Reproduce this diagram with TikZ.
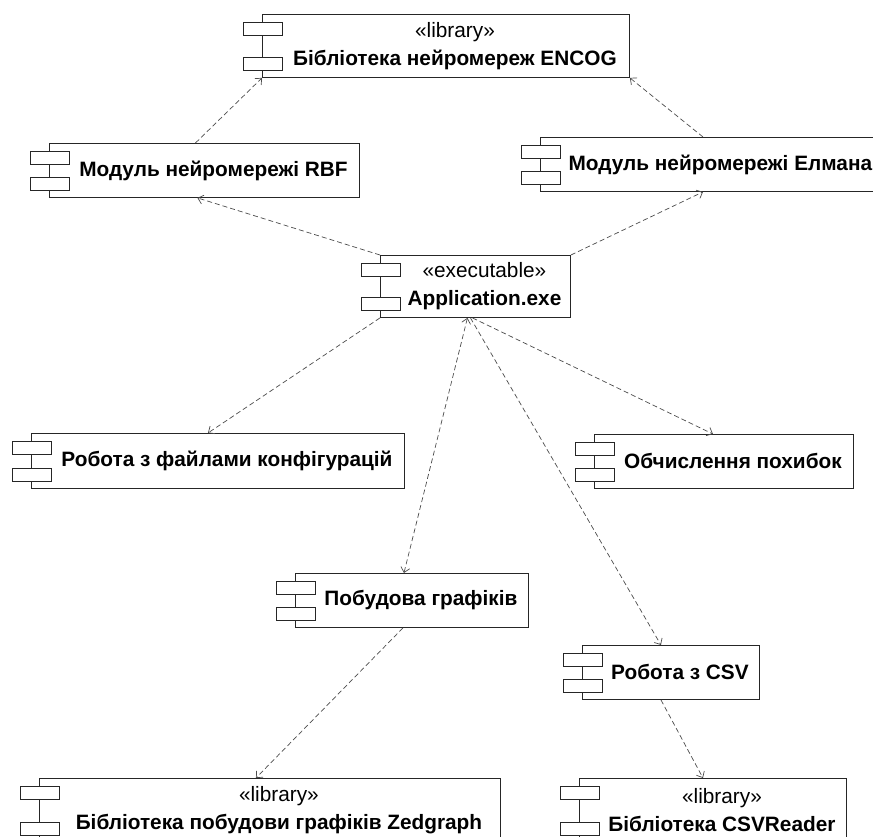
\documentclass[tikz,border=0pt]{standalone}
\usepackage{fontspec}
\setmainfont{Liberation Sans}
\usetikzlibrary{arrows.meta}
\tikzset{
  comp/.style={draw=black!85, line width=0.9pt, fill=white, inner sep=0pt, anchor=north west},
  ctext/.style={font=\fontsize{20.8}{28}\selectfont, align=center, xshift=9pt, text=black},
  tabbox/.style={draw=black!85, line width=0.8pt, fill=white},
  dep/.style={draw=black!70, line width=0.7pt, dash pattern=on 5pt off 3pt},
  tip/.style={-{Straight Barb[length=5pt,width=9pt]}},
  tips/.style={{Straight Barb[length=5pt,width=9pt]}-{Straight Barb[length=5pt,width=9pt]}}
}
\newcommand\comptabs[1]{%
  \draw[tabbox] ([xshift=-19pt,yshift=-8pt]#1.north west) rectangle ++(39pt,-13pt);
  \draw[tabbox] ([xshift=-19pt,yshift=8pt]#1.south west) rectangle ++(39pt,13pt);
}
\begin{document}
\begin{tikzpicture}[x=1pt,y=-1pt]
\useasboundingbox (0,0) rectangle (873,836);
\clip (0,0) rectangle (873,836);
\fill[white] (0,0) rectangle (873,836);

% components
\node[comp, minimum width=367pt, minimum height=63pt,
  label={[ctext]center:{«library»\\\textbf{Бібліотека нейромереж ENCOG}}}] (encog) at (262,14) {};
\comptabs{encog}
\node[comp, minimum width=310pt, minimum height=54pt,
  label={[ctext]center:{\textbf{Модуль нейромережі RBF}}}] (rbf) at (49,143) {};
\comptabs{rbf}
\node[comp, minimum width=342pt, minimum height=54pt,
  label={[ctext]center:{\textbf{Модуль нейромережі Елмана}}}] (elman) at (540,137) {};
\comptabs{elman}
\node[comp, minimum width=190pt, minimum height=62pt,
  label={[ctext]center:{«executable»\\\textbf{Application.exe}}}] (app) at (380,255) {};
\comptabs{app}
\node[comp, minimum width=373pt, minimum height=55pt,
  label={[ctext]center:{\textbf{Робота з файлами конфігурацій}}}] (cfg) at (31,433) {};
\comptabs{cfg}
\node[comp, minimum width=259pt, minimum height=54pt,
  label={[ctext]center:{\textbf{Обчислення похибок}}}] (err) at (594,434) {};
\comptabs{err}
\node[comp, minimum width=233pt, minimum height=54pt,
  label={[ctext]center:{\textbf{Побудова графіків}}}] (plot) at (295,573) {};
\comptabs{plot}
\node[comp, minimum width=177pt, minimum height=54pt,
  label={[ctext]center:{\textbf{Робота з CSV}}}] (csv) at (582,645) {};
\comptabs{csv}
\node[comp, minimum width=461pt, minimum height=64pt,
  label={[ctext]center:{«library»\\\textbf{Бібліотека побудови графіків Zedgraph}}}] (zed) at (39,778) {};
\comptabs{zed}
\node[comp, minimum width=267pt, minimum height=64pt,
  label={[ctext]center:{«library»\\\textbf{Бібліотека CSVReader}}}] (csvr) at (579,778) {};
\comptabs{csvr}

% dependencies
\draw[dep,tip] (app.north west) -- ([xshift=-7pt]rbf.south);
\draw[dep,tip] (app.north east) -- ([xshift=163pt]elman.south west);
\draw[dep,tip] ([xshift=-9pt]rbf.north) -- (encog.south west);
\draw[dep,tip] ([xshift=163pt]elman.north west) -- (encog.south east);
\draw[dep,tip] (app.south west) -- ([xshift=-10pt]cfg.north);
\draw[dep,tip] ([xshift=-3pt]app.south) -- ([xshift=-11pt]err.north);
\draw[dep,tips] ([xshift=-8pt]app.south) -- ([xshift=-8pt]plot.north);
\draw[dep,tip] ([xshift=-5pt]app.south) -- ([xshift=-10pt]csv.north);
\draw[dep,tip] ([xshift=-9pt]plot.south) -- ([xshift=-14pt]zed.north);
\draw[dep,tip] ([xshift=-10pt]csv.south) -- ([xshift=-10pt]csvr.north);
\end{tikzpicture}
\end{document}
